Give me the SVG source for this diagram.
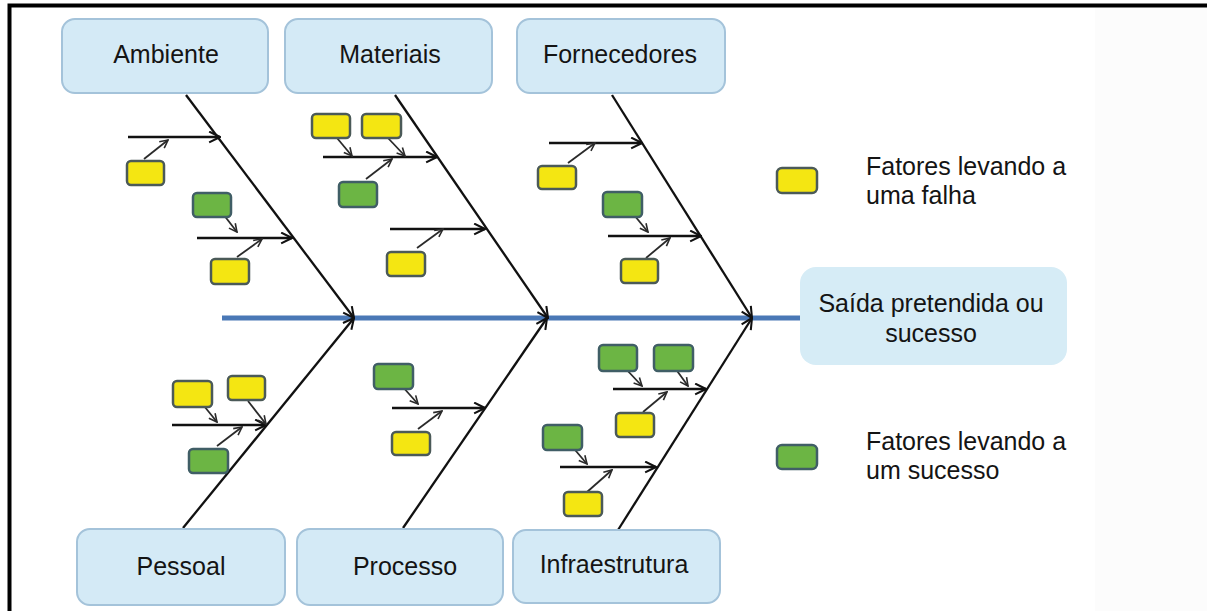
<svg xmlns="http://www.w3.org/2000/svg" width="1207" height="611" viewBox="0 0 1207 611">
  <style>
    .cat rect { fill: #d4eaf6; stroke: #a4c3da; stroke-width: 2; }
    .lbl { font-family: "Liberation Sans", Arial, sans-serif; font-size: 25px; fill: #141414; text-anchor: middle; }
    .leg { font-family: "Liberation Sans", Arial, sans-serif; font-size: 25px; fill: #141414; }
    .y { fill: #f4e612; stroke: #4b5a58; stroke-width: 2.5; }
    .g { fill: #6cb544; stroke: #405e66; stroke-width: 2.5; }
    .bone { stroke: #111; stroke-width: 2.3; fill: none; marker-end: url(#head); }
    .sub { stroke: #111; stroke-width: 2.4; fill: none; marker-end: url(#head); }
    .tick { stroke: #2a2a2a; stroke-width: 1.8; fill: none; marker-end: url(#small); }
  </style>
  <defs>
    <marker id="head" viewBox="0 0 12 12" refX="11" refY="6" markerWidth="13" markerHeight="13" markerUnits="userSpaceOnUse" orient="auto">
      <path d="M1,1 L11,6 L1,11" fill="none" stroke="#111" stroke-width="1.9"/>
    </marker>
    <marker id="small" viewBox="0 0 10 10" refX="9" refY="5" markerWidth="10" markerHeight="10" markerUnits="userSpaceOnUse" orient="auto">
      <path d="M1,1 L9,5 L1,9" fill="none" stroke="#2a2a2a" stroke-width="1.6"/>
    </marker>
  </defs>

  <rect width="1207" height="611" fill="#ffffff"/>
  <rect x="1095" y="8" width="112" height="603" fill="#fcfcfc"/>
  <!-- frame on top and left edges -->
  <polyline points="9.5,611 9.5,5.5 1207,5.5" fill="none" stroke="#000" stroke-width="4"/>

  <!-- spine and bones -->
  <g id="connectors">
    <line x1="222" y1="318" x2="800" y2="318" stroke="#4a78b6" stroke-width="5"/>
    <!-- main bones -->
    <line class="bone" x1="186" y1="95" x2="354" y2="318"/>
    <line class="bone" x1="395" y1="95" x2="548" y2="318"/>
    <line class="bone" x1="612" y1="95" x2="752" y2="318"/>
    <line class="bone" x1="183" y1="528" x2="354" y2="318"/>
    <line class="bone" x1="403" y1="528" x2="547" y2="318"/>
    <line class="bone" x1="618" y1="530" x2="752" y2="318"/>
    <!-- Ambiente branches -->
    <line class="sub" x1="128" y1="137" x2="220" y2="137"/>
    <line class="sub" x1="197" y1="238" x2="292" y2="238"/>
    <line class="tick" x1="144" y1="159" x2="168" y2="140"/>
    <line class="tick" x1="220" y1="210" x2="237" y2="232"/>
    <line class="tick" x1="237" y1="257" x2="262" y2="239"/>
    <!-- Materiais branches -->
    <line class="sub" x1="323" y1="157" x2="437" y2="157"/>
    <line class="sub" x1="390" y1="229" x2="485" y2="229"/>
    <line class="tick" x1="337" y1="138" x2="352" y2="156"/>
    <line class="tick" x1="388" y1="138" x2="405" y2="156"/>
    <line class="tick" x1="366" y1="179" x2="392" y2="159"/>
    <line class="tick" x1="417" y1="248" x2="443" y2="229"/>
    <!-- Fornecedores branches -->
    <line class="sub" x1="549" y1="143" x2="642" y2="143"/>
    <line class="sub" x1="608" y1="236" x2="701" y2="236"/>
    <line class="tick" x1="568" y1="163" x2="595" y2="143"/>
    <line class="tick" x1="630" y1="210" x2="648" y2="232"/>
    <line class="tick" x1="646" y1="258" x2="670" y2="238"/>
    <!-- Pessoal branch -->
    <line class="sub" x1="172" y1="425" x2="266" y2="425"/>
    <line class="tick" x1="200" y1="401" x2="217" y2="422"/>
    <line class="tick" x1="248" y1="401" x2="266" y2="424"/>
    <line class="tick" x1="217" y1="446" x2="242" y2="427"/>
    <!-- Processo branch -->
    <line class="sub" x1="392" y1="408" x2="485" y2="408"/>
    <line class="tick" x1="402" y1="386" x2="418" y2="404"/>
    <line class="tick" x1="418" y1="429" x2="442" y2="411"/>
    <!-- Infraestrutura branches -->
    <line class="sub" x1="613" y1="389" x2="706" y2="389"/>
    <line class="sub" x1="560" y1="467" x2="656" y2="467"/>
    <line class="tick" x1="625" y1="368" x2="642" y2="386"/>
    <line class="tick" x1="675" y1="368" x2="688" y2="386"/>
    <line class="tick" x1="643" y1="412" x2="667" y2="392"/>
    <line class="tick" x1="570" y1="444" x2="587" y2="464"/>
    <line class="tick" x1="587" y1="492" x2="612" y2="470"/>
  </g>

  <!-- factor boxes -->
  <g id="factors">
    <rect class="y" x="127" y="161" width="37" height="24" rx="4"/>
    <rect class="g" x="193" y="193" width="38" height="24" rx="4"/>
    <rect class="y" x="211" y="259" width="38" height="25" rx="4"/>

    <rect class="y" x="312" y="114" width="38" height="24" rx="4"/>
    <rect class="y" x="362" y="114" width="39" height="24" rx="4"/>
    <rect class="g" x="339" y="182" width="38" height="25" rx="4"/>
    <rect class="y" x="387" y="252" width="38" height="24" rx="4"/>

    <rect class="y" x="538" y="166" width="38" height="23" rx="4"/>
    <rect class="g" x="603" y="192" width="39" height="25" rx="4"/>
    <rect class="y" x="621" y="259" width="37" height="24" rx="4"/>

    <rect class="y" x="173" y="381" width="39" height="26" rx="4"/>
    <rect class="y" x="228" y="376" width="37" height="24" rx="4"/>
    <rect class="g" x="189" y="449" width="39" height="24" rx="4"/>

    <rect class="g" x="374" y="364" width="39" height="25" rx="4"/>
    <rect class="y" x="392" y="432" width="38" height="23" rx="4"/>

    <rect class="g" x="599" y="345" width="38" height="26" rx="4"/>
    <rect class="g" x="654" y="345" width="39" height="26" rx="4"/>
    <rect class="y" x="616" y="413" width="38" height="24" rx="4"/>
    <rect class="g" x="543" y="425" width="39" height="25" rx="4"/>
    <rect class="y" x="564" y="492" width="38" height="24" rx="4"/>
  </g>

  <!-- category nodes -->
  <g id="ambiente" class="cat">
    <rect x="62" y="19" width="206" height="74" rx="13"/>
    <text class="lbl" x="166" y="63">Ambiente</text>
  </g>
  <g id="materiais" class="cat">
    <rect x="285" y="19" width="207" height="74" rx="13"/>
    <text class="lbl" x="390" y="63">Materiais</text>
  </g>
  <g id="fornecedores" class="cat">
    <rect x="517" y="19" width="208" height="74" rx="13"/>
    <text class="lbl" x="620" y="63">Fornecedores</text>
  </g>
  <g id="pessoal" class="cat">
    <rect x="77" y="529" width="208" height="76" rx="13"/>
    <text class="lbl" x="181" y="575">Pessoal</text>
  </g>
  <g id="processo" class="cat">
    <rect x="297" y="529" width="206" height="76" rx="13"/>
    <text class="lbl" x="405" y="575">Processo</text>
  </g>
  <g id="infraestrutura" class="cat">
    <rect x="513" y="530" width="207" height="73" rx="13"/>
    <text class="lbl" x="614" y="573">Infraestrutura</text>
  </g>

  <!-- effect node -->
  <g id="saida">
    <rect x="800" y="267" width="267" height="98" rx="16" fill="#d6ecf6"/>
    <text class="lbl" x="931" y="312">Saída pretendida ou</text>
    <text class="lbl" x="931" y="342">sucesso</text>
  </g>

  <!-- legend -->
  <g id="legend">
    <rect class="y" x="777" y="168" width="40" height="25" rx="5"/>
    <text class="leg" x="866" y="175">Fatores levando a</text>
    <text class="leg" x="866" y="204">uma falha</text>
    <rect class="g" x="777" y="445" width="40" height="24" rx="5"/>
    <text class="leg" x="866" y="450">Fatores levando a</text>
    <text class="leg" x="866" y="479">um sucesso</text>
  </g>
</svg>
